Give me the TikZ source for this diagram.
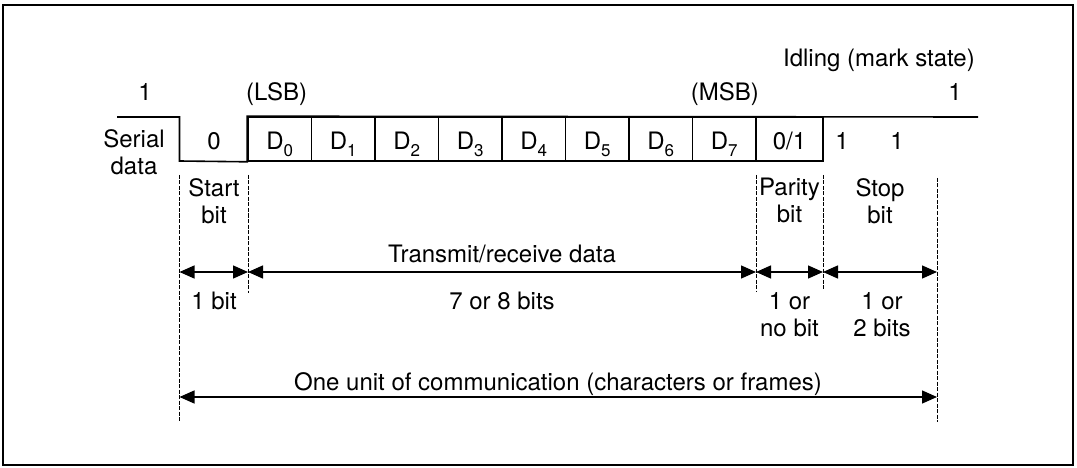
\documentclass[tikz,border=0pt]{standalone}
\usepackage{fontspec}
\setmainfont{TeX Gyre Heros}
\usetikzlibrary{arrows.meta, positioning, calc}

\tikzset{
  cell/.style={draw, line width=1.6pt, minimum width=63.5pt, minimum height=44pt,
    inner sep=0pt, text height=24pt, text depth=2pt, font=\fontsize{24}{27}\selectfont},
  lbl/.style={inner sep=0pt, font=\fontsize{24}{27}\selectfont},
  wave/.style={line width=1.6pt},
  guide/.style={line width=0.7pt, dash pattern=on 4pt off 1.5pt},
  dim/.style={line width=1.4pt, {Triangle[length=15pt,width=13pt]}-{Triangle[length=15pt,width=13pt]}},
}
\newcommand{\dbit}[1]{D\raisebox{-6pt}{\fontsize{17}{17}\selectfont #1}}

\begin{document}
\begin{tikzpicture}[x=1pt, y=-1pt]
  \useasboundingbox (0,0) rectangle (1077,468);
  \draw[line width=2pt] (3,5) rectangle (1073,465);

  % Bit cells
  \foreach \i in {0,...,7}
    \node[cell] (D\i) at ({279.75+63.5*\i},139) {\dbit{\i}};
  \node[cell, minimum width=67pt] (P) at (789.5,139) {0/1};

  % Waveform
  \coordinate (A) at (117,117);
  \coordinate (B) at (179.5,117);
  \coordinate (C) at (179.5,161);
  \coordinate (E) at (978,117);
  \draw[wave] (A) -- (B) -- (C) -- (D0.south west) -- (D0.north west) -- (E);

  % Guides
  \coordinate (G0) at (179.5,175);
  \coordinate (G1) at (248,175);
  \coordinate (G2) at (756,175);
  \coordinate (G3) at (823,175);
  \coordinate (G4) at (937,178);
  \coordinate (H0) at (179.5,422);
  \coordinate (H1) at (248,293);
  \coordinate (H2) at (756,292);
  \coordinate (H3) at (823,290);
  \coordinate (H4) at (937,422);
  \foreach \k in {0,...,4}
    \draw[guide] (G\k) -- (H\k);

  % Dimensions
  \coordinate (L0) at (179.5,272);
  \coordinate (L1) at (248,272);
  \coordinate (L2) at (756,272);
  \coordinate (L3) at (823,272);
  \coordinate (L4) at (937,272);
  \coordinate (M0) at (179.5,397);
  \coordinate (M1) at (937,397);
  \draw[dim] (L0) -- (L1);
  \draw[dim] (L1) -- (L2);
  \draw[dim] (L2) -- (L3);
  \draw[dim] (L3) -- (L4);
  \draw[dim] (M0) -- (M1);

  \node[lbl, anchor=base] (hiL) at (145,101) {1};
  \node[lbl, anchor=base west] (lsb) at (246,101) {(LSB)};
  \node[lbl, anchor=base east] (msb) at (759,101) {(MSB)};
  \node[lbl, anchor=base] (hiR) at (955,101) {1};
  \node[lbl, anchor=base east] (idle) at (975,67) {Idling (mark state)};
  \node[lbl, anchor=north, align=center] (serial) at (134,129) {Serial\\data};
  \node[lbl, anchor=base] (zero) at (214,150) {0};
  \node[lbl, anchor=base] (s1) at (842,150) {1};
  \node[lbl, anchor=base] (s2) at (897,150) {1};

  \node[lbl, anchor=north, align=center] (start) at (214,178) {Start\\bit};
  \node[lbl, anchor=north, align=center] (parity) at (789.5,178) {Parity\\bit};
  \node[lbl, anchor=north, align=center] (stop) at (880,178) {Stop\\bit};

  \node[lbl, anchor=base] (xfer) at (502,262) {Transmit/receive data};
  \node[lbl, anchor=north] (onebit) at (214,292) {1 bit};
  \node[lbl, anchor=north] (bits) at (502,292) {7 or 8 bits};
  \node[lbl, anchor=north, align=center] (parn) at (789.5,292) {1 or\\no bit};
  \node[lbl, anchor=north, align=center] (stopn) at (882,292) {1 or\\2 bits};
  \node[lbl, anchor=base] (unit) at (558,390) {One unit of communication (characters or frames)};
\end{tikzpicture}
\end{document}
